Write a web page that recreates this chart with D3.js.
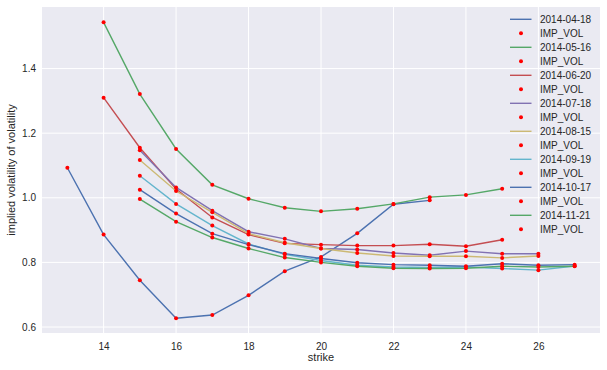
<!DOCTYPE html>
<html>
<head>
<meta charset="utf-8">
<script src="https://cdn.jsdelivr.net/npm/d3@7"></script>
<style>
  body { margin: 0; background: #fff; }
  text { font-family: "Liberation Sans", Arial, sans-serif; fill: #262626; }
</style>
</head>
<body>
<script>
// maturities and their strikes / implied vol values
var maturities = ["2014-04-18", "2014-05-16", "2014-06-20", "2014-07-18",
                  "2014-08-15", "2014-09-19", "2014-10-17", "2014-11-21"];

var colors = ["#4C72B0", "#55A868", "#C44E52", "#8172B2",
              "#CCB974", "#64B5CD", "#4C72B0", "#55A868"];

var strikes0 = [13, 14, 15, 16, 17, 18, 19, 20, 21, 22, 23];
var vols0 = [1.093, 0.886, 0.745, 0.627, 0.637, 0.698, 0.773, 0.817, 0.890, 0.980, 0.992];

var strikes1 = [14, 15, 16, 17, 18, 19, 20, 21, 22, 23, 24, 25];
var vols1 = [1.543, 1.321, 1.151, 1.040, 0.997, 0.969, 0.958, 0.966, 0.981, 1.002, 1.009, 1.028];

var strikes2 = [14, 15, 16, 17, 18, 19, 20, 21, 22, 23, 24, 25];
var vols2 = [1.310, 1.155, 1.027, 0.939, 0.886, 0.859, 0.855, 0.852, 0.852, 0.856, 0.850, 0.870];

var strikes3 = [15, 16, 17, 18, 19, 20, 21, 22, 23, 24, 25, 26];
var vols3 = [1.147, 1.032, 0.960, 0.895, 0.873, 0.843, 0.840, 0.829, 0.822, 0.835, 0.827, 0.827];

var strikes4 = [15, 16, 17, 18, 19, 20, 21, 22, 23, 24, 25, 26];
var vols4 = [1.117, 1.021, 0.955, 0.889, 0.861, 0.843, 0.829, 0.820, 0.819, 0.819, 0.814, 0.820];

var strikes5 = [15, 16, 17, 18, 19, 20, 21, 22, 23, 24, 25, 26, 27];
var vols5 = [1.068, 0.981, 0.914, 0.857, 0.825, 0.806, 0.791, 0.786, 0.784, 0.786, 0.781, 0.776, 0.789];

var strikes6 = [15, 16, 17, 18, 19, 20, 21, 22, 23, 24, 25, 26, 27];
var vols6 = [1.025, 0.951, 0.889, 0.855, 0.827, 0.812, 0.799, 0.793, 0.791, 0.788, 0.796, 0.791, 0.793];

var strikes7 = [15, 16, 17, 18, 19, 20, 21, 22, 23, 24, 25, 26, 27];
var vols7 = [0.996, 0.926, 0.877, 0.843, 0.815, 0.800, 0.788, 0.782, 0.781, 0.782, 0.788, 0.786, 0.788];

var xTicks = [14, 16, 18, 20, 22, 24, 26];
var yTicks = [0.6, 0.8, 1.0, 1.2, 1.4];

var strikeLists = [strikes0, strikes1, strikes2, strikes3, strikes4, strikes5, strikes6, strikes7];
var volLists = [vols0, vols1, vols2, vols3, vols4, vols5, vols6, vols7];

var series = maturities.map(function (m, i) {
    return {
        name: m,
        color: colors[i],
        values: strikeLists[i].map(function (k, j) { return { strike: k, vol: volLists[i][j] }; })
    };
});

var width = 607,
    height = 370,
    margin = { left: 42, right: 7, top: 7, bottom: 37 };

var svg = d3.select("body")
    .append("svg")
    .attr("width", width)
    .attr("height", height);

var x = d3.scaleLinear()
    .domain([12.3, 27.7])
    .range([margin.left, width - margin.right]);

var y = d3.scaleLinear()
    .domain([0.5815, 1.5905])
    .range([height - margin.bottom, margin.top]);

// background
svg.append("rect")
    .attr("x", margin.left)
    .attr("y", margin.top)
    .attr("width", width - margin.left - margin.right)
    .attr("height", height - margin.top - margin.bottom)
    .attr("fill", "#EAEAF2");

// grid
svg.append("g")
    .selectAll("line")
    .data(xTicks)
    .enter()
    .append("line")
    .attr("x1", function (d) { return x(d); })
    .attr("x2", function (d) { return x(d); })
    .attr("y1", margin.top)
    .attr("y2", height - margin.bottom)
    .attr("stroke", "#fff")
    .attr("stroke-width", 1);

svg.append("g")
    .selectAll("line")
    .data(yTicks)
    .enter()
    .append("line")
    .attr("y1", function (d) { return y(d); })
    .attr("y2", function (d) { return y(d); })
    .attr("x1", margin.left)
    .attr("x2", width - margin.right)
    .attr("stroke", "#fff")
    .attr("stroke-width", 1);

// axes (labels only, no spines)
var xAxis = svg.append("g")
    .attr("transform", "translate(0," + (height - margin.bottom) + ")")
    .call(d3.axisBottom(x).tickValues(xTicks).tickSize(0).tickPadding(10).tickFormat(d3.format("d")));
xAxis.select(".domain").remove();
xAxis.selectAll("text").style("font-size", "10px").attr("fill", "#262626");

var yAxis = svg.append("g")
    .attr("transform", "translate(" + margin.left + ",0)")
    .call(d3.axisLeft(y).tickValues(yTicks).tickSize(0).tickPadding(6).tickFormat(d3.format(".1f")));
yAxis.select(".domain").remove();
yAxis.selectAll("text").style("font-size", "10px").attr("fill", "#262626");

svg.append("text")
    .attr("x", (margin.left + width - margin.right) / 2)
    .attr("y", 361)
    .attr("text-anchor", "middle")
    .style("font-size", "11px")
    .text("strike");

svg.append("text")
    .attr("transform", "translate(15," + ((margin.top + height - margin.bottom) / 2) + ") rotate(-90)")
    .attr("text-anchor", "middle")
    .style("font-size", "11px")
    .text("implied volatility of volatility");

var line = d3.line()
    .x(function (d) { return x(d.strike); })
    .y(function (d) { return y(d.vol); });

series.forEach(function (s) {
    svg.append("path")
        .datum(s.values)
        .attr("fill", "none")
        .attr("stroke", s.color)
        .attr("stroke-width", 1.4)
        .attr("d", line);

    svg.append("g")
        .selectAll("circle")
        .data(s.values)
        .enter()
        .append("circle")
        .attr("cx", function (d) { return x(d.strike); })
        .attr("cy", function (d) { return y(d.vol); })
        .attr("r", 2)
        .attr("fill", "red");
});

// legend
var legend = svg.append("g");
series.forEach(function (s, i) {
    var y0 = 19.3 + i * 2 * 14;
    legend.append("line")
        .attr("x1", 510).attr("x2", 531.5)
        .attr("y1", y0).attr("y2", y0)
        .attr("stroke", s.color)
        .attr("stroke-width", 1.4);
    legend.append("text")
        .attr("x", 540).attr("y", y0 + 3.6)
        .style("font-size", "10px")
        .text(s.name);
    legend.append("circle")
        .attr("cx", 521).attr("cy", y0 + 14)
        .attr("r", 2)
        .attr("fill", "red");
    legend.append("text")
        .attr("x", 540).attr("y", y0 + 14 + 3.6)
        .style("font-size", "10px")
        .text("IMP_VOL");
});
</script>
</body>
</html>
